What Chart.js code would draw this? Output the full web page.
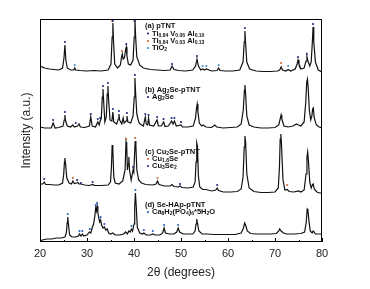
<!DOCTYPE html>
<html>
<head>
<meta charset="utf-8">
<script src="https://cdn.jsdelivr.net/npm/chart.js@4.4.0/dist/chart.umd.min.js"></script>
<style>
  html, body { margin: 0; padding: 0; background: #fff; }
</style>
</head>
<body>
<canvas id="xrdChart" width="370" height="289"></canvas>
<script>
// x ticks (2theta)
const xTicks = [20, 30, 40, 50, 60, 70, 80];

// patterns: [2theta, intensity (a.u., stacked)]
const pTNT = [[20,176],[21,174],[22,173],[23,172.5],[24,172],[24.8,174],[25.1,184],[25.3,197],[25.5,182],[25.8,174],[26.5,172],[27.2,172],[27.4,174],[27.6,172],[28.5,171.5],[30,171],[31.5,171.5],[33,171],[34.5,172],[35.1,178],[35.35,205],[35.5,219],[35.65,200],[35.9,178],[36.5,174],[37.1,177],[37.35,185],[37.5,188],[37.7,183],[37.95,184],[38.2,192],[38.35,195],[38.5,186],[38.8,178],[39.3,177],[39.8,182],[40.05,205],[40.2,222],[40.35,205],[40.6,185],[41.2,177],[42,174],[43.5,172.5],[45,172],[46.5,171.5],[47.7,172],[48.1,176],[48.5,172.5],[49.5,171.5],[51,171],[52.5,172],[53.1,176],[53.4,183],[53.7,176],[54.2,172],[54.6,173],[55,172],[55.4,173],[56.5,171],[57.7,171.5],[58,174],[58.3,171.5],[59.5,171],[61,171],[62.5,172],[63.2,180],[63.45,200],[63.6,211],[63.75,198],[64,180],[64.6,173],[66,171],[67.5,170.5],[69,170.5],[70.5,171],[71,172],[71.3,175],[71.6,172],[72.3,171],[72.8,172.5],[73.3,171],[74.3,173],[74.7,178],[74.9,182],[75.1,178],[75.5,173],[76.2,174],[76.6,181],[76.8,185],[77,181],[77.4,176],[77.7,180],[77.95,200],[78.1,215],[78.25,200],[78.6,180],[79.2,172],[80,170]];

const ag2sePTNT = [[20,115],[21,114],[22.4,114],[22.8,119],[23.2,114],[24,114.5],[24.9,116],[25.15,122],[25.3,127],[25.45,121],[25.8,116],[26.5,115],[27,117],[27.3,115],[28,116],[28.3,118],[28.6,115],[29.5,114.5],[30.5,116],[30.8,125],[31.1,116],[31.8,115],[32.3,120],[32.6,117],[32.8,121],[33.05,124],[33.25,145],[33.4,153],[33.55,140],[33.8,120],[34.1,125],[34.3,148],[34.45,156],[34.6,142],[34.9,122],[35.3,121],[35.5,130],[35.7,120],[36.3,118],[36.65,123],[36.8,128],[36.95,122],[37.4,118],[37.7,124],[37.9,119],[38.3,121],[38.5,126],[38.7,120],[39.3,119],[39.8,126],[40.05,145],[40.2,164],[40.35,148],[40.6,128],[41,120],[41.3,118],[42,116],[42.4,125],[42.6,118],[42.9,117],[43.1,124],[43.3,117],[44.2,116],[44.9,122],[45.2,116],[45.8,116],[46.3,120],[46.6,115.5],[47.3,116],[48,121],[48.3,118],[48.6,121],[49,116],[50,117],[50.3,115],[51.5,115],[52.6,116],[53.1,124],[53.3,134],[53.45,138],[53.6,130],[53.9,119],[54.4,116],[54.7,117],[55.3,115],[56.5,114.5],[57.2,117],[57.6,115],[59,114],[60.5,114.5],[62,115],[62.8,118],[63.25,132],[63.5,152],[63.6,157],[63.75,148],[64,126],[64.5,117],[65.5,115],[67,114],[68.5,114],[70,114.5],[70.8,117],[71.15,124],[71.3,127],[71.45,123],[71.9,116],[72.8,115],[73.8,116],[74.6,118],[75,117],[75.5,116],[76.2,120],[76.55,140],[76.75,160],[76.9,163],[77.05,155],[77.3,132],[77.6,122],[77.85,126],[78,133],[78.15,134],[78.35,124],[78.8,117],[79.4,115],[80,114]];

const cu2sePTNT = [[20,58],[20.6,58],[20.9,60],[21.2,57.5],[22,57.5],[23,57],[24,57],[24.8,59],[25.05,68],[25.2,80],[25.3,84],[25.45,78],[25.7,64],[26.2,59],[26.7,58],[27,61],[27.3,58.5],[27.8,59],[28,59.5],[28.3,58],[28.7,58],[29.5,57],[30.5,56.5],[31.2,57.5],[31.6,56.5],[33,56.5],[34.5,57],[35,60],[35.2,75],[35.35,97],[35.5,92],[35.7,65],[36,59],[36.8,58],[37.6,61],[38.1,72],[38.3,100],[38.45,96],[38.6,72],[38.75,78],[38.9,85],[39.05,72],[39.4,62],[39.65,68],[39.8,72],[39.95,70],[40.1,85],[40.25,101],[40.4,96],[40.6,72],[41,62],[41.6,59],[42.5,57.5],[44,57],[44.7,58],[45,61],[45.3,57.5],[46.5,56],[47.7,56],[48.1,57.5],[48.5,55.5],[49.5,55],[49.8,56],[50.2,54.5],[51.5,54],[52.6,55],[53,60],[53.2,80],[53.35,99],[53.5,96],[53.7,66],[54,55],[54.6,52.5],[55.3,52.5],[56.5,51],[57.4,52],[57.7,54],[58,51.5],[59,50],[60.5,50],[62,50.5],[62.8,53],[63.2,65],[63.45,95],[63.6,106],[63.75,100],[64,68],[64.5,54],[65.5,50.5],[67,49.5],[68.5,49.5],[70,50],[70.7,54],[70.95,75],[71.1,103],[71.25,108],[71.4,95],[71.7,62],[72.1,52],[72.6,52.5],[73,50.5],[74,50],[75,51],[75.5,50],[76.2,52],[76.6,68],[76.8,85],[76.95,90],[77.1,82],[77.4,60],[77.7,54],[78,57.5],[78.15,58],[78.35,53],[78.9,50],[79.5,49],[80,49]];

const seHApPTNT = [[20,1],[20.5,2],[21.5,3],[22.5,3],[23.5,4],[24.5,4],[25.3,5],[25.6,9],[25.8,20],[25.9,25],[26.05,18],[26.3,7],[26.8,5],[27.5,5],[28.2,6],[28.4,8],[28.7,6],[29,8],[29.3,6],[30,7],[30.5,10],[30.8,9],[31.1,14],[31.4,18],[31.7,27],[31.85,34],[32,31],[32.15,36],[32.3,30],[32.5,24],[32.7,20],[32.9,22],[33.1,17],[33.4,14],[33.7,15],[34,12],[34.3,13],[34.6,9],[35,8],[35.5,9],[36,7],[37,7],[37.8,8],[38.2,10],[38.6,8],[38.9,11],[39.2,10],[39.45,13],[39.7,11],[40,18],[40.15,35],[40.3,49],[40.45,38],[40.7,15],[41.2,9],[41.8,8],[42.1,9],[42.6,7],[43.5,7],[44,8],[44.5,7],[45.5,7],[46.1,9],[46.4,14],[46.7,9],[47.5,8],[48.5,8],[49.1,10],[49.4,14],[49.7,10],[50.5,8],[51.5,8],[52.5,8],[53,11],[53.2,18],[53.35,23],[53.5,19],[53.8,11],[54.5,8],[55.5,8],[57,7.5],[58.5,7.5],[60,7.5],[61.5,7.5],[62.8,9],[63.3,14],[63.55,19],[63.75,17],[64.1,11],[64.8,8.5],[66,8],[67.5,8],[69,8],[70.3,8.5],[70.8,11],[71,13],[71.3,11],[71.8,9],[72.5,8],[74,8],[75.5,8.5],[76.3,10],[76.65,20],[76.85,33],[77,32],[77.2,22],[77.5,11],[77.9,9],[78.1,11],[78.3,10],[78.6,8],[79.3,8],[80,8]];

// phase markers above peaks
const mTiA = [[25.3,200],[35.5,221],[38.35,198],[40.2,221],[48.1,178],[53.4,186],[63.6,214],[74.9,185],[76.8,188],[78.1,218]];
const mTiB = [[35.35,221],[37.45,191],[40.05,221],[71.3,179]];
const mTiO2 = [[27.4,177],[54.6,176],[55.4,176],[58,177],[72.8,176]];
const mAg2Se = [[22.8,122],[25.3,130],[27.6,119],[30.8,128],[32.3,123],[32.8,124],[33.4,156],[34.45,159],[35.5,133],[36.8,131],[38.5,129],[40.2,167],[42.4,128],[43.1,127],[44.9,125],[46.3,123],[48,124],[48.6,124],[50,120]];
const mCu18Se = [[27,64],[38.35,103],[40.25,104],[45,64],[72.6,57]];
const mCu3Se2 = [[20.9,63],[27.9,62],[28.7,59],[31.2,60],[39.8,75],[49.8,58],[57.7,57]];
const mCa8 = [[25.9,28],[28.4,11],[29,11],[30.6,13],[31.85,37],[32.15,39],[32.9,25],[33.7,18],[39.45,16],[40.3,52],[42.1,12],[44,11],[46.4,17],[49.4,17]];

const colTiA = '#1d2b7a', colTiB = '#d0652a', colTiO2 = '#3a8fd0';
const colAg = '#1d2b7a', colCu18 = '#d0652a', colCu3 = '#1d2b7a', colCa = '#2a5cc0';

const toXY = arr => arr.map(p => ({ x: p[0], y: p[1] }));

function lineSet(arr) {
  return { type: 'line', data: toXY(arr), borderColor: '#111', borderWidth: 1.2,
           pointRadius: 0, tension: 0, fill: false, order: 2 };
}
function markSet(arr, color) {
  return { type: 'scatter', data: toXY(arr), backgroundColor: color, borderColor: color,
           pointRadius: 1.05, borderWidth: 0, order: 1 };
}

// legend-like labels inside the plot
function rich(ctx, x, y, parts) {
  let cx = x;
  parts.forEach(p => {
    const sub = p[1] === 'sub';
    ctx.font = sub ? 'bold 5px Arial' : 'bold 7.5px Arial';
    ctx.fillText(p[0], cx, sub ? y + 2 : y);
    cx += ctx.measureText(p[0]).width;
  });
}

const notes = [
  { y: 26, parts: [['(a) pTNT']] },
  { y: 33.5, dot: colTiA, parts: [['Ti'],['0.84','sub'],[' V'],['0.06','sub'],[' Al'],['0.10','sub']] },
  { y: 41, dot: colTiB, parts: [['Ti'],['0.84','sub'],[' V'],['0.03','sub'],[' Al'],['0.13','sub']] },
  { y: 48, dot: colTiO2, parts: [['TiO'],['2','sub']] },
  { y: 90, parts: [['(b) Ag'],['2','sub'],['Se-pTNT']] },
  { y: 97, dot: colAg, parts: [['Ag'],['2','sub'],['Se']] },
  { y: 152, parts: [['(c) Cu'],['2','sub'],['Se-pTNT']] },
  { y: 159, dot: colCu18, parts: [['Cu'],['1.8','sub'],['Se']] },
  { y: 166, dot: colCu3, parts: [['Cu'],['3','sub'],['Se'],['2','sub']] },
  { y: 205, parts: [['(d) Se-HAp-pTNT']] },
  { y: 212, dot: colCa, parts: [['Ca'],['8','sub'],['H'],['2','sub'],['(PO'],['4','sub'],[')'],['6','sub'],['*5H'],['2','sub'],['O']] }
];

const framePlugin = {
  id: 'frame',
  afterDraw(chart) {
    const { ctx, chartArea: a, scales } = chart;
    ctx.save();
    ctx.strokeStyle = '#000';
    ctx.lineWidth = 1;
    ctx.strokeRect(a.left + 0.5, a.top + 0.5, a.right - a.left - 1, a.bottom - a.top - 1);
    // inward ticks, major and minor
    for (let v = 20; v <= 80; v += 5) {
      const px = Math.round(scales.x.getPixelForValue(v)) + 0.5;
      const len = v % 10 === 0 ? 4 : 2;
      ctx.beginPath();
      ctx.moveTo(px, a.bottom);
      ctx.lineTo(px, a.bottom - len);
      ctx.stroke();
    }
    ctx.fillStyle = '#111';
    ctx.textBaseline = 'middle';
    notes.forEach(n => {
      if (n.dot) {
        ctx.fillStyle = n.dot;
        ctx.beginPath();
        ctx.arc(148, n.y, 1.1, 0, Math.PI * 2);
        ctx.fill();
        ctx.fillStyle = '#111';
        rich(ctx, 152, n.y, n.parts);
      } else {
        rich(ctx, 145, n.y, n.parts);
      }
    });
    ctx.restore();
  }
};

new Chart(document.getElementById('xrdChart'), {
  data: {
    datasets: [
      lineSet(pTNT), lineSet(ag2sePTNT), lineSet(cu2sePTNT), lineSet(seHApPTNT),
      markSet(mTiA, colTiA), markSet(mTiB, colTiB), markSet(mTiO2, colTiO2),
      markSet(mAg2Se, colAg), markSet(mCu18Se, colCu18), markSet(mCu3Se2, colCu3),
      markSet(mCa8, colCa)
    ]
  },
  options: {
    responsive: false,
    animation: false,
    layout: { padding: { top: 19, right: 48, left: 0, bottom: 0 } },
    plugins: { legend: { display: false }, tooltip: { enabled: false } },
    scales: {
      x: {
        type: 'linear', min: 20, max: 80,
        afterBuildTicks: s => { s.ticks = xTicks.map(v => ({ value: v })); },
        afterFit: s => { s.height = 47; },
        grid: { display: false, drawTicks: false },
        border: { display: false },
        ticks: { color: '#222', font: { family: 'Arial', size: 11 }, padding: 5, maxRotation: 0 },
        title: { display: true, text: '2θ (degrees)', color: '#222',
                 font: { family: 'Arial', size: 12 }, padding: { bottom: 9 } }
      },
      y: {
        type: 'linear', min: 0, max: 223,
        afterFit: s => { s.width = 40; },
        grid: { display: false, drawTicks: false },
        border: { display: false },
        ticks: { display: false },
        title: { display: true, text: 'Intensity (a.u.)', color: '#222',
                 font: { family: 'Arial', size: 12 }, padding: { top: 19 } }
      }
    }
  },
  plugins: [framePlugin]
});
</script>
</body>
</html>
